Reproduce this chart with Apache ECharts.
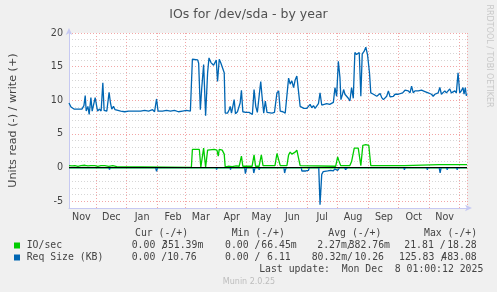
<!DOCTYPE html>
<html>
<head>
<meta charset="utf-8">
<title>IOs for /dev/sda - by year</title>
<script src="https://cdn.jsdelivr.net/npm/echarts@6/dist/echarts.min.js"></script>
<style>
  html, body { margin: 0; padding: 0; background: #f0f0f0; }
  #chart { width: 497px; height: 292px; }
</style>
</head>
<body>
<div id="chart"></div>
<script>
// x values are days since the first sample (2024-11-04)
const monthNames = ["Jan", "Feb", "Mar", "Apr", "May", "Jun", "Jul", "Aug", "Sep", "Oct", "Nov", "Dec"];
const yTicks = [-5, 0, 5, 10, 15, 20];

// IO/sec, write (+) and read (-)
const ioWrite = [
  [0, 0.3], [3, 0.25], [6, 0.3], [9, 0.2], [12, 0.3], [16, 0.35], [19, 0.25], [22, 0.3], [26, 0.3],
  [29, 0.2], [32, 0.3], [36, 0.3], [40, 0.2], [44, 0.3], [48, 0.15], [50, 0.05], [123, 0.05],
  [124, 2.7], [131, 2.7], [132.5, 0.05], [135.3, 2.9], [137.3, 0.05], [139.3, 2.6], [140.7, 2.7],
  [146, 2.7], [148.7, 2.6], [150, 1.7], [151, 2.7], [154, 2.6], [156, 2.0], [157, 0.1], [160, 0.2],
  [164, 0.15], [168, 0.25], [171, 0.2], [173.3, 1.7], [174.7, 0.2], [184, 0.2], [186, 1.9],
  [187.5, 0.2], [191, 0.2], [193.3, 1.9], [195, 0.3], [207, 0.3], [209, 2.1], [210.7, 2.1],
  [212.3, 0.3], [219, 0.3], [220.7, 1.9], [222.3, 2.3], [224, 2.0], [225.7, 2.2], [227.3, 2.3],
  [229, 2.6], [230.7, 2.5], [232.3, 0.3], [234, 0.2], [268, 0.2], [270, 1.6], [271.3, 1.0],
  [273, 0.3], [282.3, 0.3], [284, 0.9], [286.7, 2.9], [290.7, 2.9], [292.3, 2.9], [293.3, 0.3],
  [295.3, 3.3], [298.3, 3.4], [301.3, 3.3], [303.3, 0.3], [337, 0.3], [338, 0.45], [372, 0.45],
  [372.7, 0.7], [373.5, 0.45], [400, 0.45]
];
const ioRead = [[0, 0.02], [130, 0.02], [131, 0.1], [132, 0.02], [400, 0.02]];

// Req Size (KB), write (+) and read (-)
const reqWrite = [
  [0, 9.6], [1, 9.5], [2, 9.0], [5, 8.7], [9.5, 8.7], [11, 8.5], [13, 8.7], [15, 9.2], [16.3, 10.7],
  [17.3, 8.4], [19, 9.1], [20.3, 7.9], [22, 10.4], [23.3, 8.4], [25, 8.4], [26.3, 10.4], [27.3, 10.2],
  [28.7, 8.4], [30.7, 8.7], [32.3, 8.4], [34, 12.6], [35.3, 8.5], [38, 8.4], [40.3, 11.2], [41.7, 9.6],
  [43, 8.7], [44.7, 9.1], [46.3, 8.6], [48, 8.4], [52, 8.4], [56, 8.3], [60, 8.4], [64, 8.4], [66, 8.5],
  [68, 8.4], [72, 8.4], [76, 8.5], [80, 8.4], [84, 8.6], [86, 8.3], [88, 10.2], [89.5, 8.4], [94, 8.4],
  [98, 8.5], [102, 8.4], [106, 8.5], [110, 8.3], [114, 8.4], [118, 8.5], [122, 8.4],
  [124, 16.1], [126, 16.3], [129.3, 16.0], [130.3, 15.5], [132, 8.6], [133.3, 11.6], [135.3, 15.3],
  [137.3, 7.7], [139.3, 14.1], [140.7, 16.3], [142.7, 15.6], [145.3, 15.2], [146.7, 15.0], [148, 16.0],
  [149.3, 12.8], [151, 16.1], [152.7, 15.5], [154.7, 15.6], [156, 14.1], [157, 8.1], [159.3, 8.1],
  [161, 8.6], [162, 9.1], [163.3, 8.1], [166, 10.1], [167.3, 8.0], [169.3, 8.3], [172, 9.6],
  [173.3, 11.5], [174.7, 8.3], [177.7, 8.2], [181, 8.2], [182.7, 8.3], [184.3, 7.9], [186, 11.6],
  [187.7, 9.1], [189.3, 8.2], [191, 10.5], [192.7, 12.8], [194, 10.6], [195.7, 8.1], [197.3, 9.9],
  [199, 8.2], [201, 8.1], [204, 8.1], [206.5, 8.2], [209, 11.1], [210.7, 11.4], [212.3, 8.4], [215, 8.3],
  [217.3, 8.1], [219, 8.1], [220.7, 13.3], [222.3, 12.4], [224, 12.9], [225.7, 11.9], [227.3, 13.0],
  [229, 13.6], [230.7, 13.6], [232.3, 9.1], [234, 8.9], [236, 8.8], [239, 8.8], [240.7, 9.0],
  [242.3, 9.4], [244, 8.9], [245.7, 9.2], [247.3, 8.8], [249, 8.9], [250.7, 9.5], [252.3, 11.1],
  [254, 9.3], [256, 9.5], [259, 9.5], [262, 9.4], [264, 9.6], [265.7, 9.7], [267.3, 11.9], [269, 10.6],
  [270.7, 15.8], [272.3, 13.4], [273.3, 10.1], [274.7, 10.8], [276, 11.6], [277.3, 10.9], [279, 10.6],
  [280.7, 10.3], [282.3, 9.9], [284, 11.9], [285.7, 10.3], [287.3, 17.1], [289, 16.8], [290.7, 16.9],
  [291.7, 17.1], [293.3, 10.6], [294.7, 16.9], [296.7, 17.3], [298.3, 17.9], [300, 16.8], [302, 14.1],
  [303.3, 11.1], [306, 10.9], [307.7, 11.1], [309.3, 10.6], [311, 10.4], [312.7, 11.0], [314.3, 10.4],
  [316, 10.1], [317.7, 9.9], [319.3, 10.6], [321, 11.4], [322.7, 10.5], [324.3, 10.7], [326, 10.6],
  [327.7, 10.9], [329.3, 11.0], [331, 10.9], [332.7, 11.0], [335.3, 11.1], [337.7, 11.5], [339.3, 11.4],
  [341, 11.4], [342.7, 11.1], [344.3, 12.1], [346, 11.1], [347.7, 11.4], [349.3, 11.5], [351, 11.4],
  [352.7, 11.4], [354.3, 11.5], [356, 11.4], [357.7, 11.3], [359.3, 11.4], [361, 11.1], [362.7, 11.0],
  [364.3, 10.9], [366, 10.6], [367.7, 10.9], [369.3, 10.9], [371, 11.1], [372.7, 11.9], [374.3, 10.9],
  [376, 11.1], [377.7, 11.4], [379.3, 11.1], [381, 11.4], [382.7, 11.7], [384.3, 11.1], [386, 10.9],
  [387.7, 11.4], [389.3, 11.1], [391, 14.1], [392.7, 11.1], [394.3, 11.4], [396, 11.9], [397, 10.9],
  [398.3, 11.9], [399.3, 10.7], [400, 10.9]
];
const reqRead = [
  [0, 0], [40, 0], [40.7, 0.3], [41.5, 0], [87, 0], [88, 0.55], [89, 0], [124, 0], [124.5, 0.2],
  [125.5, 0], [148, 0], [148.3, 0.3], [149, 0], [162, 0], [162.3, 0.3], [163, 0], [176.5, 0],
  [177.3, 0.9], [178.5, 0], [185, 0], [185.7, 0.8], [187, 0], [190.5, 0], [191, 0.3], [192, 0],
  [209, 0], [210, 0.2], [211, 0], [216, 0], [216.7, 0.8], [217.5, 0.3], [218.5, 0], [233.5, 0],
  [234, 0.5], [236, 0.3], [238, 0.5], [240.7, 0.4], [241.5, 0], [251, 0], [252.3, 5.5], [254, 1.0],
  [255.5, 0.6], [257, 0.5], [260, 0.5], [263, 0.4], [265.7, 0.5], [267, 0.2], [270, 0.4], [272, 0],
  [277, 0], [278, 0.3], [280, 0], [285, 0], [285.5, 0.2], [286, 0], [314.5, 0], [315, 0.2], [316, 0],
  [336.5, 0], [337, 0.3], [338, 0], [359.5, 0], [360, 0.3], [361, 0], [372, 0], [373, 0.8], [374, 0],
  [379.5, 0], [380, 0.3], [381, 0], [389.5, 0], [390, 0.3], [391, 0], [400, 0]
];

// legend table: [read part, write part] per column
const legendHeads = ["Cur (-/+)", "Min (-/+)", "Avg (-/+)", "Max (-/+)"];
const ioCells = [["0.00 /", "351.39m"], ["0.00 /", "66.45m"], ["2.27m/", "382.76m"], ["21.81 /", "18.28"]];
const reqCells = [["0.00 /", "10.76"], ["0.00 /", "6.11"], ["80.32m/", "10.26"], ["125.83 /", "483.08"]];
const lastUpdate = "Last update:  Mon Dec  8 01:00:12 2025";

const DAY = 86400000;
const start = Date.UTC(2024, 10, 4);
const end = start + 400 * DAY;
const toSeries = (pairs, sign) => pairs.map(([d, v]) => [start + d * DAY, sign * v]);

const GREEN = "#00cc00", BLUE = "#0066b3";
const minor = "#d6d6d6", major = "#f2a6a6", axisColor = "#c6c9f2";
const mono = '9.8px "DejaVu Sans Mono"';

const txt = (text, x, y, align, font, fill, extra) => Object.assign({
  type: "text", x: x, y: y, silent: true,
  style: { text: text, font: font || mono, fill: fill || "#444",
    textAlign: align, align: align, textVerticalAlign: "middle", verticalAlign: "middle" }
}, extra || {});

const graphics = [];
const headX = [135, 231.7, 328.3, 424];
legendHeads.forEach((h, i) => graphics.push(txt(h, headX[i], 233.5, "left")));
graphics.push({ type: "rect", silent: true, shape: { x: 14, y: 242.5, width: 6, height: 6 }, style: { fill: GREEN } });
graphics.push({ type: "rect", silent: true, shape: { x: 14, y: 254.5, width: 6, height: 6 }, style: { fill: BLUE } });
graphics.push(txt("IO/sec", 26.7, 245.7, "left"));
graphics.push(txt("Req Size (KB)", 26.7, 257.7, "left"));
const ioPos = [[131.7, 203.3], [225, 296.7], [317.3, 390], [404.3, 476.7]];
const reqPos = [[131.7, 196.7], [225, 290.7], [311.7, 384], [399, 476.7]];
ioCells.forEach((c, i) => {
  graphics.push(txt(c[0], ioPos[i][0], 245.7, "left"));
  graphics.push(txt(c[1], ioPos[i][1], 245.7, "right"));
});
reqCells.forEach((c, i) => {
  graphics.push(txt(c[0], reqPos[i][0], 257.7, "left"));
  graphics.push(txt(c[1], reqPos[i][1], 257.7, "right"));
});
graphics.push(txt(lastUpdate, 483.3, 269.5, "right"));
graphics.push(txt("Munin 2.0.25", 249, 281.5, "center", '8px "DejaVu Sans"', "#bdbdbd"));
graphics.push(txt("RRDTOOL / TOBI OETIKER", 489, 56, "center", '8px "DejaVu Sans"', "#c8c8c8", { rotation: -Math.PI / 2 }));

const lineSeries = (data, color, extra) => Object.assign({
  type: "line", data: data, showSymbol: false, symbol: "none",
  lineStyle: { color: color, width: 1.3 }, itemStyle: { color: color },
  xAxisIndex: 0, yAxisIndex: 0, silent: true
}, extra || {});

const option = {
  useUTC: true,
  animation: false,
  backgroundColor: "#f0f0f0",
  textStyle: { fontFamily: "DejaVu Sans" },
  title: {
    text: "IOs for /dev/sda - by year", left: "center", top: 3,
    textStyle: { fontSize: 12.5, fontWeight: "normal", color: "#505050", fontFamily: "DejaVu Sans" }
  },
  grid: { left: 66, right: 30, top: 33, bottom: 84, show: true, backgroundColor: "#fff", borderWidth: 0 },
  xAxis: [
    {
      type: "time", min: start, max: end, splitNumber: 14,
      axisLine: { onZero: false, lineStyle: { color: axisColor, width: 1 }, symbol: ["none", "arrow"], symbolSize: [5, 7], symbolOffset: [0, 5] },
      axisTick: { show: false }, axisLabel: { show: false },
      splitLine: { show: true, lineStyle: { color: major, type: [1, 2], width: 1 } }
    },
    {
      // month names centred in each month: same scale shifted by half a month
      type: "time", min: start - 15.5 * DAY, max: end - 15.5 * DAY, splitNumber: 14,
      position: "bottom", offset: 0,
      axisLine: { show: false }, axisTick: { show: false }, splitLine: { show: false },
      axisLabel: {
        showMinLabel: false, showMaxLabel: false, margin: 4, fontSize: 9.6, color: "#444",
        fontFamily: "DejaVu Sans",
        formatter: (v) => monthNames[new Date(v).getUTCMonth()]
      }
    }
  ],
  yAxis: {
    type: "value", min: -6, max: 20, interval: 1,
    name: "Units read (-) / write (+)", nameLocation: "middle", nameGap: 50, nameRotate: 90,
    nameTextStyle: { fontSize: 11.2, color: "#444", fontFamily: "DejaVu Sans" },
    axisLine: { show: true, lineStyle: { color: axisColor, width: 1 }, symbol: ["none", "arrow"], symbolSize: [5, 7], symbolOffset: [0, 5] },
    axisTick: { show: false },
    axisLabel: {
      formatter: (v) => (yTicks.indexOf(v) >= 0 ? String(v) : ""),
      fontSize: 9.6, color: "#444", margin: 6, fontFamily: "DejaVu Sans"
    },
    splitLine: { show: true, lineStyle: { color: [minor, major, minor, minor, minor], type: [1, 2], width: 1 } }
  },
  series: [
    lineSeries(toSeries(ioRead, -1), GREEN),
    lineSeries(toSeries(ioWrite, 1), GREEN, {
      markLine: {
        silent: true, symbol: "none", label: { show: false },
        lineStyle: { color: "#000", width: 1, type: "solid" },
        data: [{ yAxis: 0 }]
      }
    }),
    lineSeries(toSeries(reqRead, -1), BLUE),
    lineSeries(toSeries(reqWrite, 1), BLUE)
  ],
  graphic: graphics
};

const chart = echarts.init(document.getElementById("chart"), null, { renderer: "canvas" });
chart.setOption(option);
</script>
</body>
</html>
